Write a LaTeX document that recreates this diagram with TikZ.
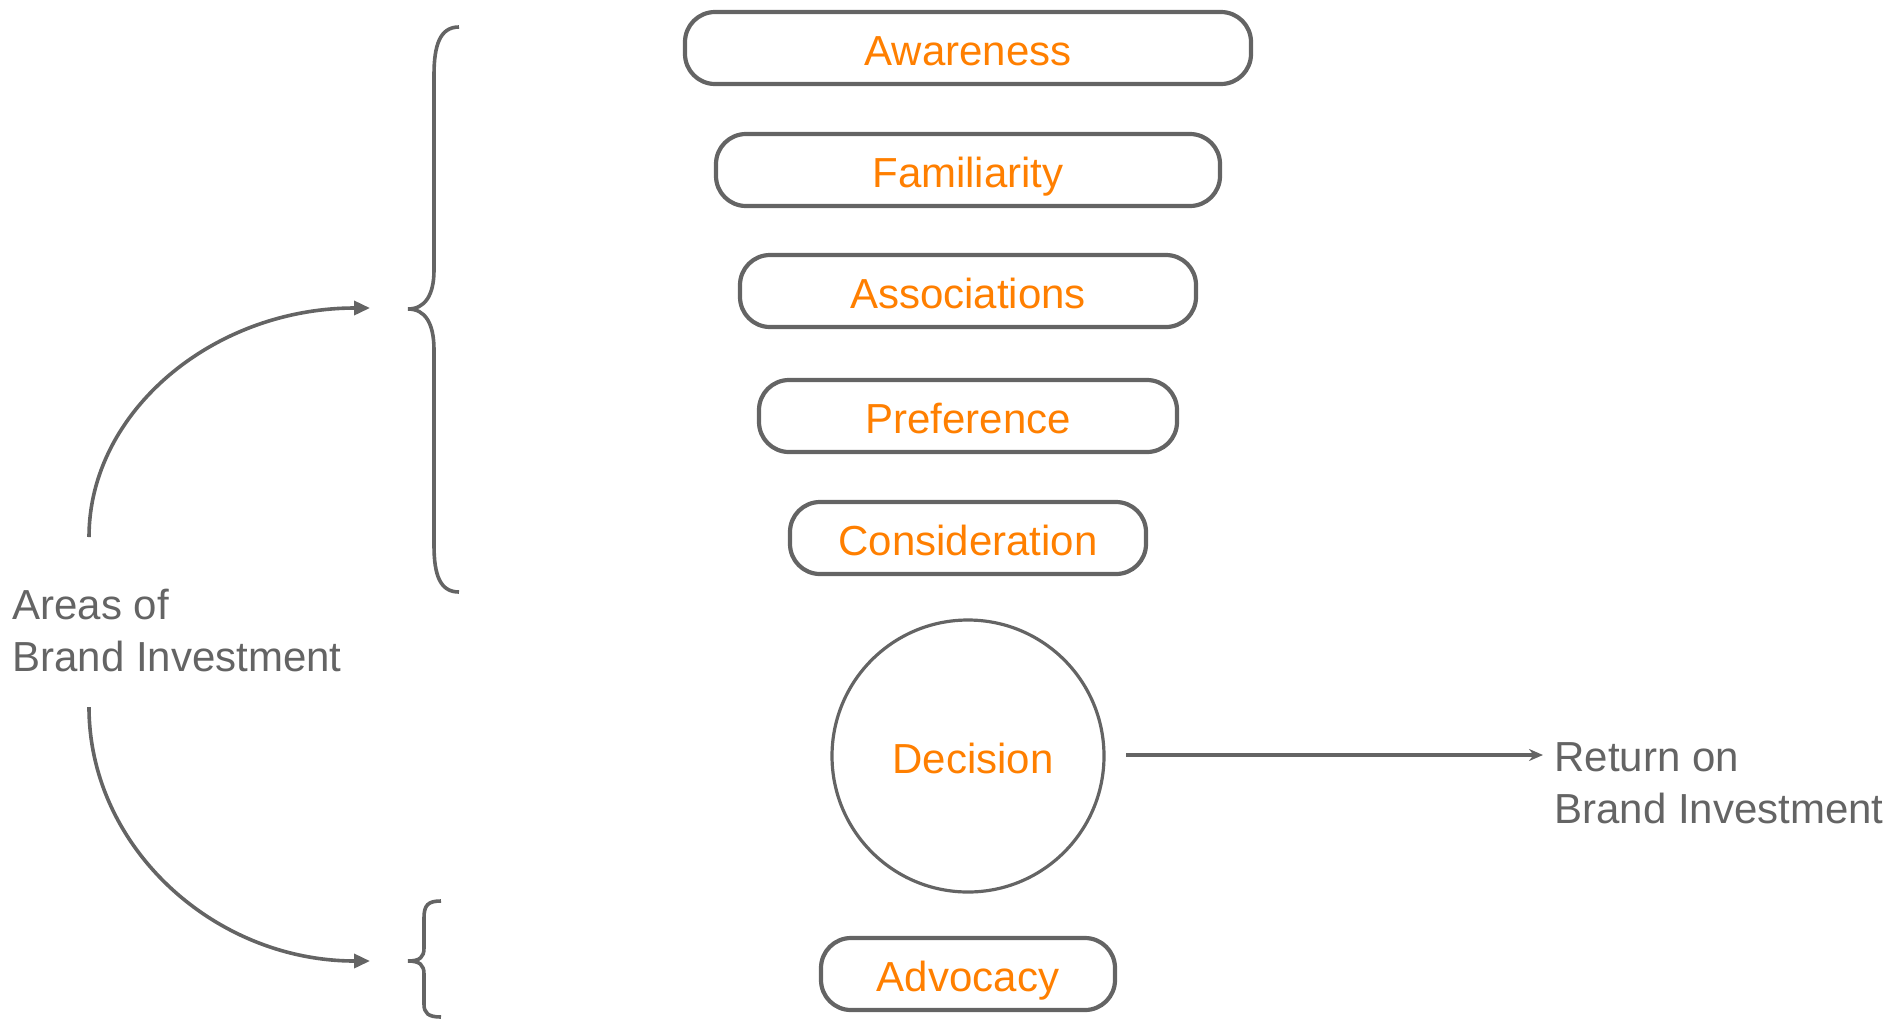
\documentclass[tikz,border=0pt]{standalone}
\usepackage{fontspec}
\setmainfont{Liberation Sans}
\usetikzlibrary{arrows.meta}
\definecolor{lgray}{HTML}{646464}
\definecolor{lorange}{HTML}{FF7F00}
\tikzset{
  stage/.style={draw=lgray, line width=2.1pt, rounded corners=15pt, minimum height=36pt,
    inner sep=0pt, text=lorange, text height=17pt, text depth=0pt, font=\fontsize{21}{25}\selectfont},
  decisioncircle/.style={draw=lgray, line width=1.6pt, circle, minimum size=136pt,
    inner sep=0pt, text=lorange, font=\fontsize{21}{25}\selectfont},
  graytext/.style={text=lgray, align=left, inner sep=0pt, font=\fontsize{21}{26}\selectfont},
  bracepath/.style={draw=lgray, line width=1.8pt},
  curvedarrow/.style={draw=lgray, line width=1.8pt, -{Triangle[length=8pt,width=7pt]}},
  straightarrow/.style={draw=lgray, line width=1.6pt, -{Stealth[length=7pt,width=6pt]}}
}
\begin{document}
\begin{tikzpicture}[x=0.5pt,y=-0.5pt]
\useasboundingbox (0,0) rectangle (1895,1019);
% stages
\node[stage, minimum width=283pt] (aware) at (968,48) {Awareness};
\node[stage, minimum width=252pt] (famil) at (968,170) {Familiarity};
\node[stage, minimum width=228pt] (assoc) at (968,291) {Associations};
\node[stage, minimum width=209pt] (pref) at (968,416) {Preference};
\node[stage, minimum width=178pt] (consid) at (968,538) {Consideration};
\node[decisioncircle] (dec) at (968,756) {};
\node[text=lorange, font=\fontsize{21}{25}\selectfont, inner sep=0pt] (dectext) at (973,758) {Decision};
\node[stage, minimum width=147pt] (advoc) at (968,974) {Advocacy};
% texts
\node[graytext, anchor=west] (areas) at (12,630) {Areas of\\Brand Investment};
\node[graytext, anchor=west] (ret) at (1554,783) {Return on\\Brand Investment};
% braces
\draw[bracepath] (459,27) .. controls (440,27) and (434,45) .. (434,75) -- (434,270)
  .. controls (434,295) and (425,309) .. (408,309)
  .. controls (425,309) and (434,323) .. (434,350) -- (434,545)
  .. controls (434,575) and (440,592) .. (459,592);
\draw[bracepath] (441,901) .. controls (428,901) and (424,905) .. (424,918) -- (424,948)
  .. controls (424,957) and (420,961) .. (408,961)
  .. controls (420,961) and (424,965) .. (424,974) -- (424,1004)
  .. controls (424,1013) and (428,1017) .. (441,1017);
% curved arrows
\coordinate (a1s) at (89,537);
\coordinate (a1e) at (370,308);
\coordinate (a2s) at (89,707);
\coordinate (a2e) at (370,961);
\draw[curvedarrow] (a1s) .. controls (89,411) and (214,308) .. (a1e);
\draw[curvedarrow] (a2s) .. controls (89,847) and (214,961) .. (a2e);
% decision arrow
\coordinate (ds) at (1126,755);
\coordinate (de) at (1543,755);
\draw[straightarrow] (ds) -- (de);
\end{tikzpicture}
\end{document}
